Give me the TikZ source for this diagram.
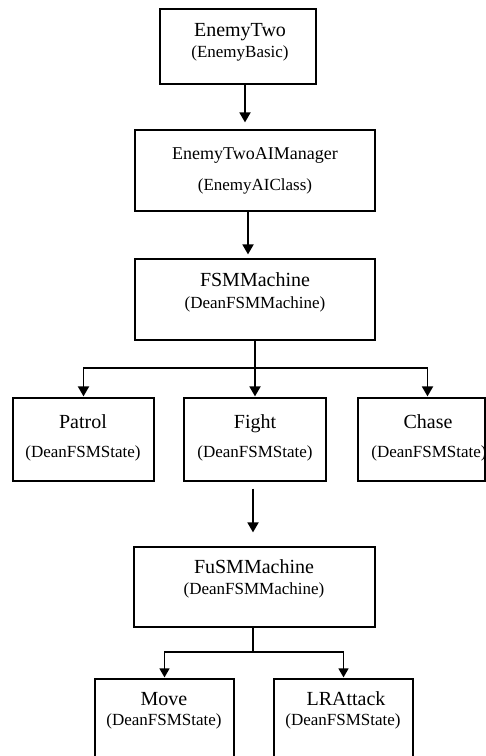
\documentclass[tikz,border=0pt]{standalone}
\usepackage{fontspec}
\setmainfont{Liberation Serif}
\usetikzlibrary{positioning,calc,arrows.meta}

\tikzset{
    box/.style={draw, line width=1.2pt, inner sep=0pt},
    title/.style={anchor=base, inner sep=0pt, font=\fontsize{20}{24}\selectfont},
    sub/.style={anchor=base, inner sep=0pt, font=\fontsize{17}{20}\selectfont},
    arr/.style={line width=1.8pt, -{Triangle[width=11pt,length=10pt]}},
    thinarr/.style={line width=1.4pt, -{Triangle[width=10pt,length=9pt]}}
}

\begin{document}
\begin{tikzpicture}[x=1pt, y=-1pt]
    \useasboundingbox (0,0) rectangle (486,756);
    \clip (0,0) rectangle (486,756);

    % boxes
    \node [box, minimum width=156pt, minimum height=75pt] (two) at (238,46.5) {};
    \node [box, minimum width=240pt, minimum height=81pt] (mgr) at (255,170.5) {};
    \node [box, minimum width=240pt, minimum height=81pt] (fsm) at (255,299.5) {};
    \node [box, minimum width=141pt, minimum height=83pt] (patrol) at (83.5,439.5) {};
    \node [box, minimum width=142pt, minimum height=83pt] (fight) at (255,439.5) {};
    \node [box, minimum width=127pt, minimum height=83pt] (chase) at (421.5,439.5) {};
    \node [box, minimum width=241pt, minimum height=80pt] (fusm) at (254.5,587) {};
    \node [box, minimum width=139pt, minimum height=83pt] (move) at (164.5,720.5) {};
    \node [box, minimum width=139pt, minimum height=83pt] (lra) at (343.5,720.5) {};

    % texts
    \node [title] (two-t) at (240,36) {EnemyTwo};
    \node [sub] (two-s) at (240,57) {(EnemyBasic)};
    \node [title, font=\fontsize{18}{22}\selectfont] (mgr-t) at (255,159) {EnemyTwoAIManager};
    \node [sub] (mgr-s) at (255,190) {(EnemyAIClass)};
    \node [title] (fsm-t) at (255,286) {FSMMachine};
    \node [sub] (fsm-s) at (255,308) {(DeanFSMMachine)};
    \node [title] (patrol-t) at (83,428) {Patrol};
    \node [sub] (patrol-s) at (83,457) {(DeanFSMState)};
    \node [title] (fight-t) at (255,428) {Fight};
    \node [sub] (fight-s) at (255,457) {(DeanFSMState)};
    \node [title] (chase-t) at (428,428) {Chase};
    \node [sub] (chase-s) at (429,457) {(DeanFSMState)};
    \node [title] (fusm-t) at (254,573) {FuSMMachine};
    \node [sub] (fusm-s) at (254,594) {(DeanFSMMachine)};
    \node [title] (move-t) at (164,705) {Move};
    \node [sub] (move-s) at (164,725) {(DeanFSMState)};
    \node [title] (lra-t) at (346,705) {LRAttack};
    \node [sub] (lra-s) at (343,725) {(DeanFSMState)};

    % connectors
    \draw [arr, shorten >=7pt] ([xshift=7pt]two.south) -- ([xshift=7pt]two.south |- mgr.north);
    \draw [arr, shorten >=4pt] ([xshift=-7pt]mgr.south) -- ([xshift=-7pt]mgr.south |- fsm.north);

    \coordinate (split) at (255,368);
    \draw [arr, shorten >=1pt] (fsm.south) -- (fight.north);
    \draw [arr, shorten >=1pt] (split) -| (patrol.north);
    \draw [arr, shorten >=1pt] (split) -| ([xshift=6pt]chase.north);

    \draw [arr, shorten <=7pt, shorten >=14pt] ([xshift=-2pt]fight.south) -- ([xshift=-2pt]fight.south |- fusm.north);

    \coordinate (fork) at (253,652);
    \draw [line width=1.4pt] (fusm.south -| fork) -- (fork);
    \draw [thinarr, shorten >=1pt] (fork) -| (move.north);
    \draw [thinarr, shorten >=1pt] (fork) -| (lra.north);
\end{tikzpicture}
\end{document}
